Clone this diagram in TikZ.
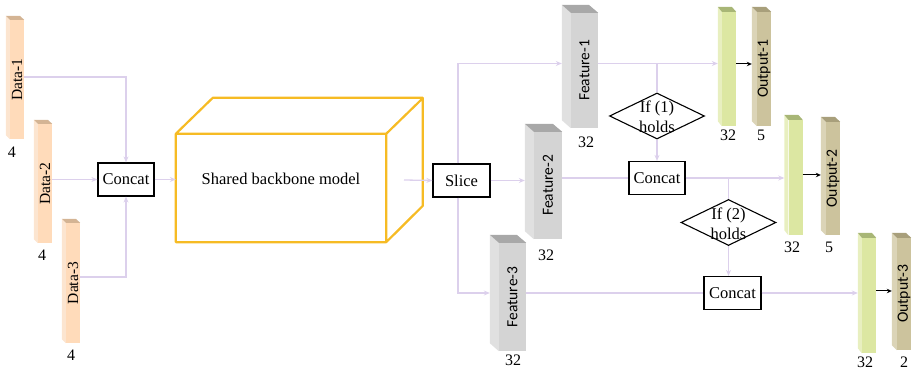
\documentclass[tikz,border=0pt]{standalone}
\usepackage{fontspec}
\setmainfont{Liberation Serif}
\newfontfamily\calib{Carlito}
\usetikzlibrary{calc,arrows.meta,shapes.geometric}
\definecolor{lav}{HTML}{DCD0EC}
\definecolor{gold}{HTML}{F6BB24}
\definecolor{datafront}{HTML}{FFDBBA}
\definecolor{dataside}{HTML}{FCE5D0}
\definecolor{datacap}{HTML}{D4B494}
\definecolor{featfront}{HTML}{D4D4D4}
\definecolor{featside}{HTML}{E0E0E0}
\definecolor{featcap}{HTML}{A8A8A8}
\definecolor{grnfront}{HTML}{DCE7A2}
\definecolor{grnside}{HTML}{E8EFC0}
\definecolor{grncap}{HTML}{A8B676}
\definecolor{outfront}{HTML}{CCC39D}
\definecolor{outside}{HTML}{DBD4B7}
\definecolor{outcap}{HTML}{A89F7B}
% name, cx, cy, w, h, dx, dy, palette, text
\newcommand\mkbar[9]{%
  \node[fill=#8front, minimum width=#4, minimum height=#5, inner sep=0] (#1) at (#2,#3) {};
  \fill[#8side] (#1.north west) -- ++(-#6,-#7) -- ($(#1.south west)+(-#6,-#7)$) -- (#1.south west) -- cycle;
  \fill[#8cap] (#1.north west) -- ++(-#6,-#7) -- ++(#4,0) -- (#1.north east) -- cycle;
  \coordinate (#1in) at ($(#1.west)+(-#6,0)$);
  \node[rotate=90, inner sep=0] (#1t) at (#1.center) {#9};
}
\begin{document}
\begin{tikzpicture}[x=1pt,y=-1pt,
  conn/.style={draw=lav, line width=1.3pt},
  arr/.style={conn, -{Stealth[length=6pt,width=5pt]}},
  blk/.style={draw=black, line width=1pt, -{Stealth[length=5pt,width=4.5pt]}},
  opbox/.style={draw=black, line width=1.2pt, fill=white, minimum width=56pt, minimum height=33pt, inner sep=0, font=\fontsize{16.5}{19}\selectfont},
  dia/.style={diamond, draw=black, line width=1.1pt, minimum width=95pt, minimum height=46pt, inner sep=0},
  diatext/.style={align=center, inner sep=0, font=\fontsize{16.5}{20}\selectfont},
  num/.style={inner sep=0, font=\fontsize{16}{19}\selectfont},
  dtext/.style={font=\fontsize{15.5}{18}\selectfont},
  stext/.style={font=\calib\fontsize{15.5}{18}\selectfont}]
\useasboundingbox (0,0) rectangle (916,371);

% data bars
\mkbar{d1}{17}{79.5}{14}{119}{4}{4}{data}{\fontsize{15.5}{18}\selectfont Data-1}
\mkbar{d2}{45}{183.5}{14}{119}{4}{4}{data}{\fontsize{15.5}{18}\selectfont Data-2}
\mkbar{d3}{73}{283}{14}{120}{4}{4}{data}{\fontsize{15.5}{18}\selectfont Data-3}
\node[num] (n1) at (12,152) {4};
\node[num] (n2) at (42,255) {4};
\node[num] (n3) at (71,355) {4};

% concat 1
\node[opbox] (c1) at (126,179.5) {Concat};

% backbone
\node[minimum width=210, minimum height=108, inner sep=0] (bb) at (281,188) {};
\draw[gold, line width=2.2pt, line join=round]
  (bb.north west) -- ++(37,-36) -- ++(210,0) -- ++(0,108) -- (bb.south east)
  (bb.north east) -- ++(37,-36)
  (bb.north west) rectangle (bb.south east);
\node[inner sep=0, font=\fontsize{16.5}{19}\selectfont] (bbt) at (281,179) {Shared backbone model};
\coordinate (bbout) at (404,180);

% slice
\node[opbox, minimum width=57] (slice) at (461.5,180.5) {Slice};

% features
\mkbar{f1}{584.5}{70.5}{27}{115}{9}{8}{feat}{\calib\fontsize{15.5}{18}\selectfont Feature-1}
\mkbar{f2}{548}{185.5}{28}{107}{9}{8}{feat}{\calib\fontsize{15.5}{18}\selectfont Feature-2}
\mkbar{f3}{512.5}{297}{27}{108}{9}{8}{feat}{\calib\fontsize{15.5}{18}\selectfont Feature-3}
\node[num] (n4) at (586,142) {32};
\node[num] (n5) at (546,255) {32};
\node[num] (n6) at (513,360) {32};

% decisions and concats
\node[dia] (dia1) at (657,116) {};
\node[diatext] (dt1) at (657,117) {If (1)\\holds};
\node[opbox] (c2) at (657,178) {Concat};
\node[dia] (dia2) at (728.5,222.5) {};
\node[diatext] (dt2) at (728.5,223.5) {If (2)\\holds};
\node[opbox, minimum width=57] (c3) at (732.5,293) {Concat};

% heads
\mkbar{g1}{729}{69}{14}{114}{4}{5}{grn}{}
\mkbar{o1}{764}{69}{14}{114}{5}{5}{out}{\calib\fontsize{15.7}{18}\selectfont Output-1}
\mkbar{g2}{795.5}{177.5}{14}{115}{4}{5}{grn}{}
\mkbar{o2}{833}{178.5}{14}{113}{5}{5}{out}{\calib\fontsize{15.7}{18}\selectfont Output-2}
\mkbar{g3}{869}{295.5}{14}{115}{4}{5}{grn}{}
\mkbar{o3}{904}{294}{14}{112}{5}{5}{out}{\calib\fontsize{15.7}{18}\selectfont Output-3}
\node[num] (n7) at (728,135) {32};
\node[num] (n8) at (761,135) {5};
\node[num] (n9) at (792,247) {32};
\node[num] (n10) at (829,247) {5};
\node[num] (n11) at (865,362) {32};
\node[num] (n12) at (904,362) {2};

% row coordinates
\coordinate (r0) at (0,77);
\coordinate (r1) at (0,63.5);
\coordinate (r3) at (0,277);

% connectors left
\draw[arr] (d1.east |- r0) -| (c1.north);
\draw[arr] (d2.east |- c1.west) -- (c1.west);
\draw[arr] (d3.east |- r3) -| (c1.south);
\draw[arr] (c1.east) -- (bb.west |- c1.east);
\draw[arr] (bbout) -- (slice.west);

% slice outputs
\draw[arr] (slice.north -| 458,0) |- (f1in |- r1);
\draw[arr] (slice.east) -- (f2in |- slice.east);
\draw[arr] (slice.south -| 458,0) |- (f3in |- c3.west);

% feature 1 row
\draw[arr] (f1.east |- r1) -- (g1in |- r1);
\draw[conn] (dia1.north |- r1) -- (dia1.north);
\draw[arr] (dia1.south) -- (c2.north);
\draw[blk] (g1.east |- 0,64) -- (o1in |- 0,64);

% feature 2 row
\draw[conn] (f2.east |- c2.west) -- (c2.west);
\draw[arr] (c2.east) -- (g2in |- c2.east);
\draw[conn] (dia2.north |- c2.east) -- (dia2.north);
\draw[arr] (dia2.south) -- (dia2.south |- c3.north);
\draw[blk] (g2.east |- 0,175) -- (o2in |- 0,175);

% feature 3 row
\draw[conn] (f3.east |- c3.west) -- (c3.west);
\draw[arr] (c3.east) -- (g3in |- c3.east);
\draw[blk] (g3.east |- 0,291) -- (o3in |- 0,291);
\end{tikzpicture}
\end{document}
